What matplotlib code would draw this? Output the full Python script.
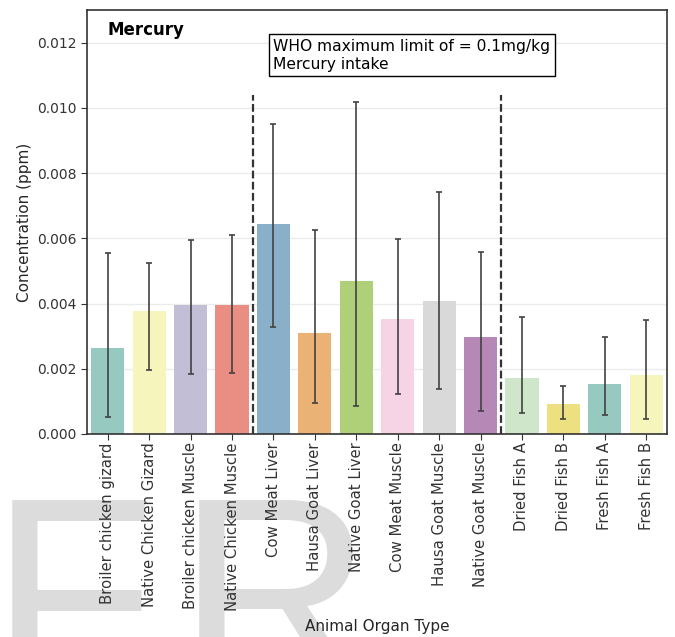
import numpy as np
import matplotlib
matplotlib.use("Agg")
import matplotlib.pyplot as plt
import seaborn as sns

# Mercury concentration per animal organ sample (ppm)
organs = ['Broiler chicken gizard', 'Native Chicken Gizard', 'Broiler chicken Muscle',
          'Native Chicken Muscle', 'Cow Meat Liver', 'Hausa Goat Liver', 'Native Goat Liver',
          'Cow Meat Muscle', 'Hausa Goat Muscle', 'Native Goat Muscle', 'Dried Fish A',
          'Dried Fish B', 'Fresh Fish A', 'Fresh Fish B']
mean_conc = [0.00264, 0.00377, 0.00396, 0.00396, 0.00643, 0.00311, 0.00469,
             0.00352, 0.00408, 0.00297, 0.00172, 0.00093, 0.00153, 0.00181]
ci_low = [0.00051, 0.00195, 0.00183, 0.00187, 0.00327, 0.00096, 0.00087,
          0.00123, 0.00139, 0.00071, 0.00063, 0.00047, 0.00059, 0.00047]
ci_high = [0.00555, 0.00523, 0.00594, 0.00610, 0.00950, 0.00626, 0.01018,
           0.00598, 0.00741, 0.00557, 0.00358, 0.00147, 0.00298, 0.00351]

# group boundaries: poultry | ruminants | fish
group_breaks = [3.5, 9.5]

mean_conc = np.array(mean_conc)
yerr = np.vstack([mean_conc - np.array(ci_low), np.array(ci_high) - mean_conc])

palette = sns.color_palette("Set3", 12)
colors = [sns.desaturate(palette[i % 12], 0.75) for i in range(len(organs))]

fig = plt.figure(figsize=(6.75, 6.37), dpi=100)

# faint lettering in the lower left corner, behind everything
fig.text(-0.015, -0.078, 'F', fontsize=195, family='Liberation Sans',
         color='#dcdcdc', zorder=-10)
fig.text(0.262, -0.078, 'R', fontsize=195, family='Liberation Sans',
         color='#dcdcdc', zorder=-10)

ax = fig.add_axes([0.129, 0.3187, 0.859, 0.6655])

x = np.arange(len(organs))
ax.bar(x, mean_conc, width=0.8, color=colors, zorder=2)
ax.errorbar(x, mean_conc, yerr=yerr, fmt='none', ecolor='#424242',
            elinewidth=1.2, capsize=2.5, capthick=1.2, zorder=3)

for b in group_breaks:
    ax.vlines(b, 0, 0.0104, colors='#333333', linestyles=(0, (3.5, 1.5)),
              linewidth=1.6, zorder=4)

ax.set_xlim(-0.5, len(organs) - 0.5)
ax.set_ylim(0, 0.013)
ax.set_yticks(np.arange(0, 0.0121, 0.002))
ax.yaxis.set_major_formatter(matplotlib.ticker.FormatStrFormatter('%.3f'))
ax.set_xticks(x)
ax.set_xticklabels(organs, rotation=90, fontsize=10.7, color='#262626')
ax.tick_params(axis='x', pad=2)
ax.tick_params(axis='y', labelsize=10, labelcolor='#262626')
ax.tick_params(colors='#333333', length=4)
ax.grid(axis='y', color='#ebebeb', linewidth=1, zorder=0)
ax.set_axisbelow(True)
for s in ax.spines.values():
    s.set_color('#333333')
    s.set_linewidth(1.2)

ax.set_ylabel('Concentration (ppm)', fontsize=11, color='#262626')
ax.set_xlabel('Animal Organ Type', fontsize=11, color='#262626')
ax.xaxis.set_label_coords(0.5, -0.436)

ax.text(0.035, 0.952, 'Mercury', transform=ax.transAxes, fontsize=12,
        fontweight='bold', va='center', ha='left')
ax.text(4.0, 0.01212, 'WHO maximum limit of = 0.1mg/kg\nMercury intake',
        fontsize=11.2, va='top', ha='left', zorder=5, linespacing=1.25,
        bbox=dict(boxstyle='square,pad=0.3', facecolor='white', edgecolor='black'))

fig.savefig('out.png', dpi=100)
